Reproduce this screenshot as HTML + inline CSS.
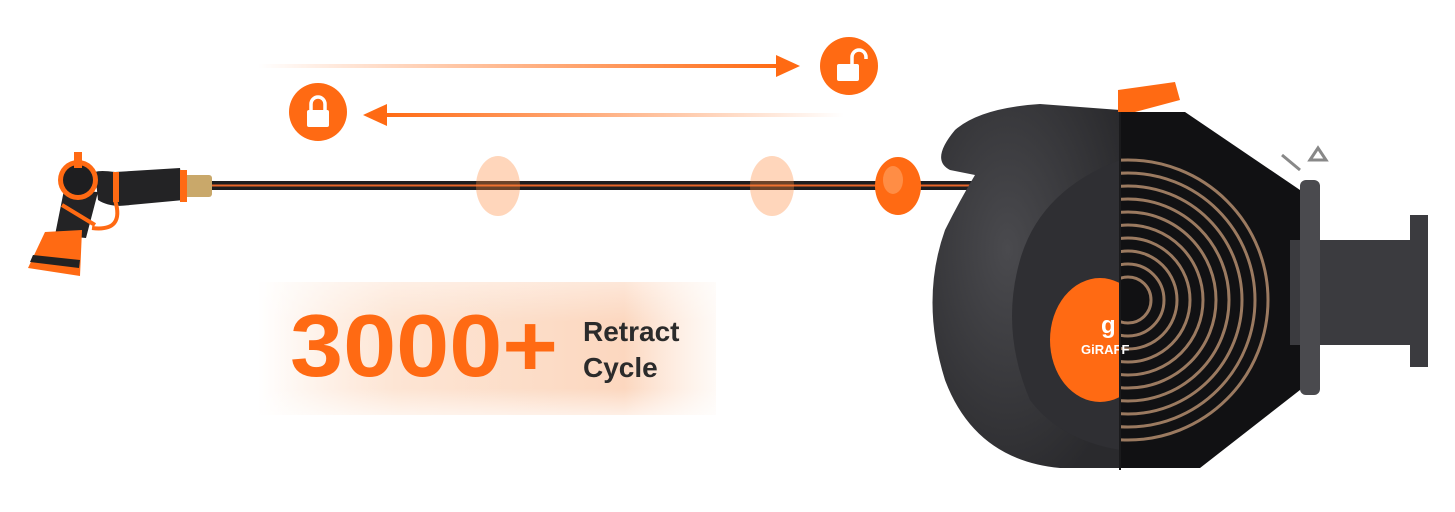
<!DOCTYPE html>
<html><head><meta charset="utf-8"><style>
html,body{margin:0;padding:0;background:#fff;width:1455px;height:512px;overflow:hidden}
svg{display:block}
</style></head><body>
<svg width="1455" height="512" viewBox="0 0 1455 512" xmlns="http://www.w3.org/2000/svg">
<defs>
<linearGradient id="la" x1="0" x2="1"><stop offset="0" stop-color="#ff6a13" stop-opacity="0"/><stop offset="1" stop-color="#ff6a13"/></linearGradient>
<linearGradient id="lb" x1="0" x2="1"><stop offset="0" stop-color="#ff6a13"/><stop offset="1" stop-color="#ff6a13" stop-opacity="0"/></linearGradient>
<linearGradient id="bx" x1="0" x2="1"><stop offset="0" stop-color="#fde0cc" stop-opacity="0"/><stop offset="0.3" stop-color="#fde5d4"/><stop offset="0.8" stop-color="#fcd7bf"/><stop offset="1" stop-color="#fde5d4" stop-opacity="0.2"/></linearGradient>
<linearGradient id="bxv" x1="0" y1="0" x2="0" y2="1"><stop offset="0" stop-color="#fff" stop-opacity="0.4"/><stop offset="0.3" stop-color="#fff" stop-opacity="0"/><stop offset="0.8" stop-color="#fff" stop-opacity="0"/><stop offset="1" stop-color="#fff" stop-opacity="0.6"/></linearGradient>
<radialGradient id="body" cx="0.4" cy="0.4" r="0.7"><stop offset="0" stop-color="#4a4a4e"/><stop offset="1" stop-color="#2a2a2d"/></radialGradient>
<clipPath id="left"><rect x="0" y="0" width="1120" height="512"/></clipPath>
<clipPath id="right"><rect x="1121" y="0" width="300" height="512"/></clipPath>
</defs>

<!-- arrows -->
<rect x="258" y="64" width="520" height="4" fill="url(#la)"/>
<polygon points="800,66 776,55 776,77" fill="#ff6a13"/>
<rect x="384" y="113" width="460" height="4" fill="url(#lb)"/>
<polygon points="363,115 387,104 387,126" fill="#ff6a13"/>
<circle cx="849" cy="66" r="29" fill="#ff6a13"/>
<rect x="837" y="64" width="22" height="17" rx="2" fill="#fff"/>
<path d="M852 64 v-7 a7 7 0 0 1 14 0 v2" fill="none" stroke="#fff" stroke-width="3.5"/>
<circle cx="318" cy="112" r="29" fill="#ff6a13"/>
<rect x="307" y="110" width="22" height="17" rx="2" fill="#fff"/>
<path d="M311 110 v-6 a7 7 0 0 1 14 0 v6" fill="none" stroke="#fff" stroke-width="3.5"/>

<!-- hose -->
<rect x="210" y="181" width="770" height="9" fill="#1e1e20"/>
<rect x="210" y="184.5" width="770" height="2" fill="#e8662a"/>
<rect x="184" y="175" width="28" height="22" rx="3" fill="#c9a86a"/>
<!-- nozzle -->
<path d="M95 172 Q100 170 115 172 L180 168 L184 200 L130 205 Q110 208 98 200 Z" fill="#232325"/>
<rect x="180" y="170" width="7" height="32" fill="#ff6a13"/>
<rect x="113" y="172" width="6" height="30" fill="#ff6a13"/>
<path d="M64 190 L98 192 L86 238 L55 235 Z" fill="#232325"/>
<circle cx="78" cy="180" r="20" fill="#ff6a13"/>
<circle cx="78" cy="180" r="15" fill="#1e1e20"/>
<path d="M115 200 Q125 232 92 228" fill="none" stroke="#ff6a13" stroke-width="4"/>
<path d="M62 205 L95 225" stroke="#ff6a13" stroke-width="4"/>
<polygon points="45,232 82,230 80,276 28,268" fill="#ff6a13"/>
<polygon points="33,255 80,260 79,268 30,262" fill="#222"/>
<rect x="74" y="152" width="8" height="16" fill="#ff6a13"/>

<!-- beads -->
<ellipse cx="498" cy="186" rx="22" ry="30" fill="#ff8a3d" opacity="0.35"/>
<ellipse cx="772" cy="186" rx="22" ry="30" fill="#ff8a3d" opacity="0.35"/>
<ellipse cx="898" cy="186" rx="23" ry="29" fill="#ff6a13"/>
<ellipse cx="893" cy="180" rx="10" ry="14" fill="#ff8d45"/>

<!-- box -->
<rect x="258" y="282" width="458" height="133" fill="url(#bx)"/>
<rect x="258" y="282" width="458" height="133" fill="url(#bxv)"/>
<text x="290" y="376" font-family="Liberation Sans, sans-serif" font-weight="bold" font-size="88" fill="#ff6a13" textLength="268" lengthAdjust="spacingAndGlyphs">3000+</text>
<text x="583" y="341" font-family="Liberation Sans, sans-serif" font-weight="bold" font-size="28" fill="#2b2b2b">Retract</text>
<text x="583" y="377" font-family="Liberation Sans, sans-serif" font-weight="bold" font-size="28" fill="#2b2b2b">Cycle</text>

<!-- reel back -->
<polygon points="1120,112 1185,112 1300,190 1300,390 1200,468 1120,468" fill="#111113"/>
<polygon points="1290,240 1410,240 1410,215 1428,215 1428,367 1410,367 1410,345 1290,345" fill="#3b3b3f"/>
<rect x="1300" y="180" width="20" height="215" rx="6" fill="#4a4a4e"/>
<path d="M1282 155 L1300 170 M1310 160 l8 -12 l8 12 z" stroke="#888" stroke-width="3" fill="none"/>
<g fill="none" stroke="#9b7a60" stroke-width="3" clip-path="url(#right)">
<circle cx="1128" cy="300" r="140"/><circle cx="1128" cy="300" r="127"/><circle cx="1128" cy="300" r="114"/>
<circle cx="1128" cy="300" r="101"/><circle cx="1128" cy="300" r="88"/><circle cx="1128" cy="300" r="75"/>
<circle cx="1128" cy="300" r="62"/><circle cx="1128" cy="300" r="49"/><circle cx="1128" cy="300" r="36"/>
<circle cx="1128" cy="300" r="23"/>
</g>
<!-- front body -->
<g clip-path="url(#left)">
<path d="M1120 110 L1040 104 Q980 108 955 130 Q930 160 950 170 L975 175 Q960 200 945 230 Q920 300 945 380 Q975 460 1060 468 L1120 468 Z" fill="url(#body)"/>
<path d="M1120 160 Q1040 190 1020 260 Q1000 330 1030 400 Q1060 440 1120 450 Z" fill="#2f2f33"/>
<ellipse cx="1100" cy="340" rx="50" ry="62" fill="#ff6a13"/>
</g>
<text x="1081" y="354" font-family="Liberation Sans, sans-serif" font-weight="bold" font-size="13" fill="#fff">GiRAFF</text>
<text x="1101" y="333" font-family="Liberation Sans, sans-serif" font-weight="bold" font-size="24" fill="#fff">g</text>
<rect x="1119" y="100" width="2" height="370" fill="#1a1a1c"/>
<polygon points="1118,90 1175,82 1180,100 1135,112 1118,112" fill="#ff6a13"/>
</svg>
</body></html>
